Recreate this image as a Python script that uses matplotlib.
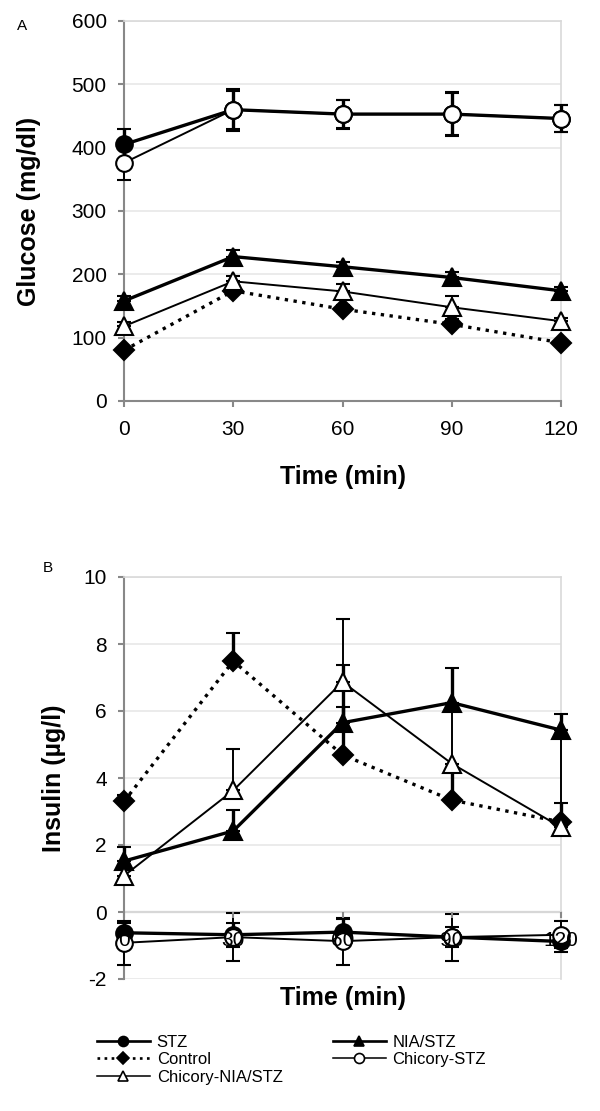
import numpy as np
import matplotlib.pyplot as plt
from matplotlib.lines import Line2D

plt.rcParams['font.family'] = ['Liberation Sans', 'DejaVu Sans']
plt.rcParams['axes.unicode_minus'] = False

time = [0, 30, 60, 90, 120]

# glucose (mg/dl)
glu_stz = [405, 460, 453, 453, 446]
glu_stz_err = [25, 30, 22, 33, 22]
glu_nia = [158, 228, 212, 195, 174]
glu_nia_err = [8, 10, 8, 8, 6]
glu_ctrl = [80, 174, 145, 121, 92]
glu_ctrl_err = [5, 5, 6, 8, 5]
glu_chstz = [376, 460, 453, 453, 446]
glu_chstz_err = [27, 33, 23, 35, 22]
glu_chnia = [118, 189, 173, 148, 126]
glu_chnia_err = [6, 8, 12, 17, 5]

# insulin (ug/l)
ins_stz = [-0.62, -0.68, -0.6, -0.75, -0.88]
ins_stz_err = [0.3, 0.35, 0.4, 0.3, 0.3]
ins_nia = [1.52, 2.42, 5.65, 6.25, 5.43]
ins_nia_err = [0.42, 0.62, 1.72, 1.03, 0.47]
ins_ctrl = [3.3, 7.49, 4.69, 3.34, 2.69]
ins_ctrl_err = [0.2, 0.84, 1.43, 0.95, 0.56]
ins_chstz = [-0.92, -0.75, -0.87, -0.75, -0.68]
ins_chstz_err = [0.65, 0.72, 0.7, 0.7, 0.4]
ins_chnia = [1.08, 3.63, 6.87, 4.43, 2.53]
ins_chnia_err = [0.3, 1.24, 1.87, 1.8, 2.9]

styles = {
    'STZ': dict(marker='o', mfc='black', ls='-', lw=2.4, ms=12),
    'NIA/STZ': dict(marker='^', mfc='black', ls='-', lw=2.4, ms=13),
    'Control': dict(marker='D', mfc='black', ls=':', lw=2.4, ms=10),
    'Chicory-STZ': dict(marker='o', mfc='white', ls='-', lw=1.4, ms=12),
    'Chicory-NIA/STZ': dict(marker='^', mfc='white', ls='-', lw=1.4, ms=13),
}
both_sides = ['STZ', 'Chicory-STZ']


def draw_panel(ax, data, ylim, yticks, ylabel, ylab_x, xlab_y):
    for name, (vals, err) in data.items():
        st = styles[name]
        err = np.array(err)
        if name in both_sides:
            yerr = err
        else:
            yerr = [np.zeros_like(err), err]
        ax.errorbar(time, vals, yerr=yerr, color='black', ecolor='black',
                    ls=st['ls'], lw=st['lw'], marker=st['marker'],
                    mfc=st['mfc'], mec='black', mew=1.5, ms=st['ms'],
                    elinewidth=st['lw'], capsize=5, capthick=st['lw'],
                    clip_on=False, zorder=3)
    ax.set_xlim(0, 120)
    ax.set_ylim(*ylim)
    ax.set_xticks(time)
    ax.set_yticks(yticks)
    ax.yaxis.grid(True, color='#e8e8e8', lw=1.2)
    ax.set_axisbelow(True)
    for s in ['top', 'right']:
        ax.spines[s].set_color('#d9d9d9')
        ax.spines[s].set_linewidth(1.2)
    for s in ['left', 'bottom']:
        ax.spines[s].set_color('#888888')
        ax.spines[s].set_linewidth(1.5)
    ax.tick_params(axis='both', labelsize=15, color='#888888', width=1.5,
                   length=4.5)
    ax.tick_params(axis='x', pad=9.5)
    ax.tick_params(axis='y', pad=8)
    ax.set_ylabel(ylabel, fontsize=18, fontweight='bold')
    ax.set_xlabel('Time (min)', fontsize=18, fontweight='bold')
    ax.yaxis.set_label_coords(ylab_x, 0.5)
    ax.xaxis.set_label_coords(0.5, xlab_y)


fig = plt.figure(figsize=(6, 11.11), dpi=100)
axA = fig.add_axes([124 / 600, 1 - 401 / 1111, 437 / 600, 380 / 1111])
axB = fig.add_axes([124 / 600, 1 - 979 / 1111, 437 / 600, 402 / 1111])

dataA = {
    'STZ': (glu_stz, glu_stz_err),
    'NIA/STZ': (glu_nia, glu_nia_err),
    'Control': (glu_ctrl, glu_ctrl_err),
    'Chicory-STZ': (glu_chstz, glu_chstz_err),
    'Chicory-NIA/STZ': (glu_chnia, glu_chnia_err),
}
dataB = {
    'STZ': (ins_stz, ins_stz_err),
    'NIA/STZ': (ins_nia, ins_nia_err),
    'Control': (ins_ctrl, ins_ctrl_err),
    'Chicory-STZ': (ins_chstz, ins_chstz_err),
    'Chicory-NIA/STZ': (ins_chnia, ins_chnia_err),
}

draw_panel(axA, dataA, (0, 600), range(0, 601, 100), 'Glucose (mg/dl)',
           -0.19, -0.168)
draw_panel(axB, dataB, (-2, 10), range(-2, 11, 2), 'Insulin (µg/l)',
           -0.133, -0.017)
# x axis crosses at zero in panel B, labels drawn over the markers
axB.spines['bottom'].set_position(('data', 0))
axB.spines['bottom'].set_zorder(0.5)
axB.xaxis.set_zorder(5)

fig.text(17 / 600, 1 - 26 / 1111, 'A', fontsize=11, va='center', ha='left')
fig.text(43 / 600, 1 - 568 / 1111, 'B', fontsize=11, va='center', ha='left')

# legend
order = ['STZ', 'Control', 'Chicory-NIA/STZ', 'NIA/STZ', 'Chicory-STZ']
handles = []
for name in order:
    st = styles[name]
    handles.append(Line2D([], [], color='black', ls=st['ls'], lw=st['lw'] * 0.8,
                          marker=st['marker'], mfc=st['mfc'], mec='black',
                          mew=1.2, ms=st['ms'] * 0.6))
fig.legend(handles, order, ncol=2, loc='upper left',
           bbox_to_anchor=(90 / 600, 1 - 1028 / 1111), frameon=False,
           fontsize=12, handlelength=3.2, handletextpad=0.4,
           columnspacing=3.0, labelspacing=0.15, borderaxespad=0)

fig.savefig('out.png', dpi=100, facecolor='white')
